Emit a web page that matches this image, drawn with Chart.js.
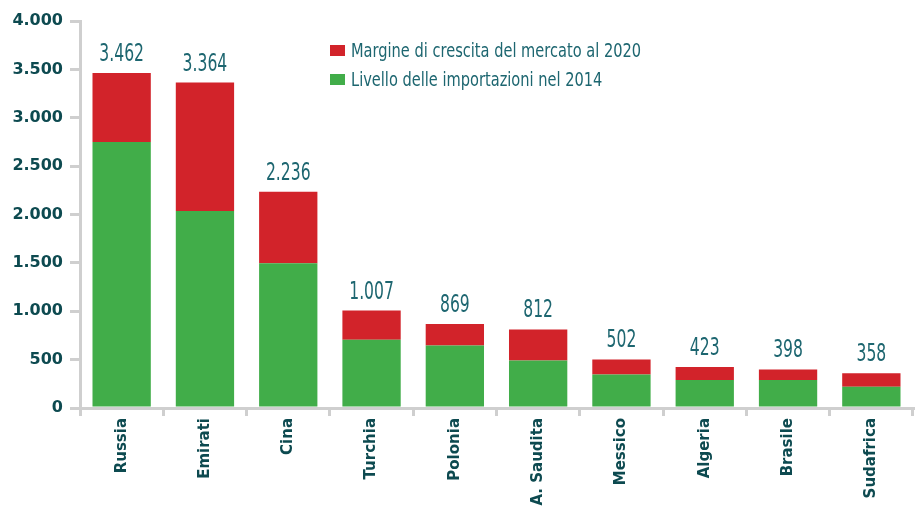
<!DOCTYPE html>
<html>
<head>
<meta charset="utf-8">
<script src="https://cdn.jsdelivr.net/npm/chart.js@4"></script>
<style>
  html,body{margin:0;padding:0;background:#fff;}
  #wrap{width:916px;height:507px;}
</style>
</head>
<body>
<div id="wrap"><canvas id="importChart" width="916" height="507"></canvas></div>
<script>
// countries
const countries=["Russia","Emirati","Cina","Turchia","Polonia","A. Saudita","Messico","Algeria","Brasile","Sudafrica"];
// import level 2014 (green part)
const imports2014=[2750,2035,1495,705,645,490,345,290,290,220];
// growth margin to 2020 (red part)
const growth2020=[712,1329,741,302,224,322,157,133,108,138];
// totals printed above the bars
const totals=[3462,3364,2236,1007,869,812,502,423,398,358];
const yTicks=[0,500,1000,1500,2000,2500,3000,3500,4000];

const RED="#d2232a";
const GREEN="#41ad49";
const TEAL="#1d6670";
const DARK="#0d4a50";
const GREY="#cfcfcf";

function fmt(v){
    return String(v).replace(/\B(?=(\d{3})+(?!\d))/g,".");
}

// no condensed font installed: squeeze the text horizontally
function narrowText(ctx,text,x,y,squeeze){
    ctx.save();
    ctx.translate(x,y);
    ctx.scale(squeeze,1);
    ctx.fillText(text,0,0);
    ctx.restore();
}

/*totals above every stack + the legend box*/
const extras={
    id:"extras",
    afterDatasetsDraw(chart){
        let ctx=chart.ctx;
        let top=chart.getDatasetMeta(1);
        ctx.save();
        ctx.fillStyle=TEAL;
        ctx.font="24px 'DejaVu Sans'";
        ctx.textAlign="center";
        ctx.textBaseline="alphabetic";
        top.data.forEach(function(bar,i){
            narrowText(ctx,fmt(totals[i]),bar.x,bar.y-12,0.65);
        });

        // legend
        let items=[
            {label:chart.data.datasets[1].label,color:RED},
            {label:chart.data.datasets[0].label,color:GREEN}
        ];
        ctx.textAlign="left";
        ctx.textBaseline="alphabetic";
        ctx.font="20px 'DejaVu Sans'";
        items.forEach(function(it,k){
            let y=50+k*29;
            ctx.fillStyle=it.color;
            ctx.fillRect(330,y-5,15,11);
            ctx.fillStyle=TEAL;
            narrowText(ctx,it.label,351,y+7,0.73);
        });
        ctx.restore();
    }
};

let canvas=document.getElementById("importChart").getContext("2d");

let chart=new Chart(canvas,{
    type:"bar",
    data:{
        labels:countries,
        datasets:[
            {
                label:"Livello delle importazioni nel 2014",
                data:imports2014,
                backgroundColor:GREEN,
                categoryPercentage:0.7,
                barPercentage:1
            },
            {
                label:"Margine di crescita del mercato al 2020",
                data:growth2020,
                backgroundColor:RED,
                categoryPercentage:0.7,
                barPercentage:1
            }
        ]
    },
    options:{
        responsive:false,
        animation:false,
        layout:{padding:{top:21,right:3,left:0,bottom:0}},
        plugins:{
            legend:{display:false},
            tooltip:{enabled:false}
        },
        scales:{
            x:{
                stacked:true,
                offset:true,
                afterFit(scale){scale.height=99;},
                grid:{
                    display:true,
                    offset:true,
                    drawOnChartArea:false,
                    tickLength:8,
                    color:GREY,
                    lineWidth:3
                },
                border:{display:true,color:GREY,width:3,dash:[10,6]},
                ticks:{
                    minRotation:90,
                    maxRotation:90,
                    autoSkip:false,
                    padding:2,
                    color:DARK,
                    font:{family:"DejaVu Sans",size:15,weight:"bold"}
                }
            },
            y:{
                stacked:true,
                min:0,
                max:4000,
                afterFit(scale){scale.width=80;},
                afterBuildTicks(scale){
                    scale.ticks=yTicks.map(function(v){return {value:v};});
                },
                grid:{
                    display:true,
                    drawOnChartArea:false,
                    tickLength:10,
                    color:GREY,
                    lineWidth:3
                },
                border:{display:true,color:GREY,width:3,dash:[10,6]},
                ticks:{
                    padding:7,
                    color:DARK,
                    font:{family:"DejaVu Sans",size:16,weight:"bold"},
                    callback:function(v){return fmt(v);}
                }
            }
        }
    },
    plugins:[extras]
});
</script>
</body>
</html>
